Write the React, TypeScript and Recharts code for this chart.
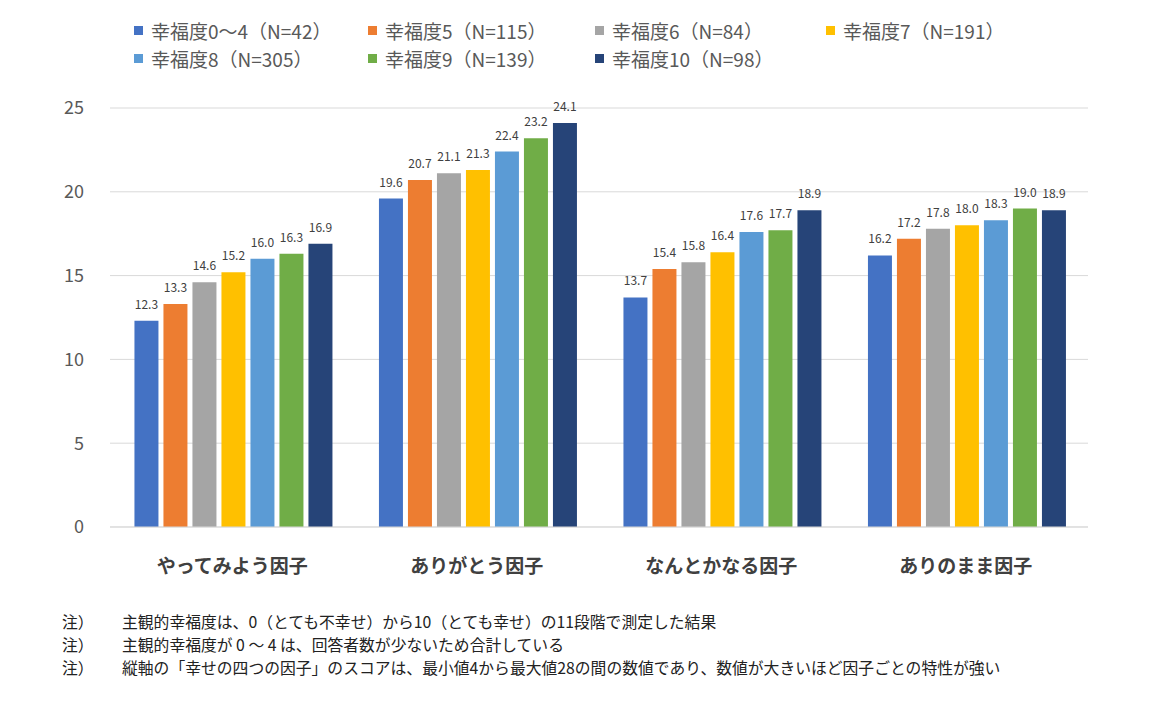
import { BarChart, Bar, XAxis, YAxis, CartesianGrid, LabelList } from 'recharts';

const categories = ['やってみよう因子', 'ありがとう因子', 'なんとかなる因子', 'ありのまま因子'];

const seriesNames = [
  '幸福度0～4（N=42）', '幸福度5（N=115）', '幸福度6（N=84）', '幸福度7（N=191）',
  '幸福度8（N=305）', '幸福度9（N=139）', '幸福度10（N=98）'
];
const seriesColors = ['#4472C4', '#ED7D31', '#A5A5A5', '#FFC000', '#5B9BD5', '#70AD47', '#264478'];

const happy0to4 = [12.3, 19.6, 13.7, 16.2];
const happy5 = [13.3, 20.7, 15.4, 17.2];
const happy6 = [14.6, 21.1, 15.8, 17.8];
const happy7 = [15.2, 21.3, 16.4, 18.0];
const happy8 = [16.0, 22.4, 17.6, 18.3];
const happy9 = [16.3, 23.2, 17.7, 19.0];
const happy10 = [16.9, 24.1, 18.9, 18.9];
const seriesValues = [happy0to4, happy5, happy6, happy7, happy8, happy9, happy10];

const yTicks = [0, 5, 10, 15, 20, 25];

const notes = [
  '主観的幸福度は、0（とても不幸せ）から10（とても幸せ）の11段階で測定した結果',
  '主観的幸福度が 0 ～ 4 は、回答者数が少ないため合計している',
  '縦軸の「幸せの四つの因子」のスコアは、最小値4から最大値28の間の数値であり、数値が大きいほど因子ごとの特性が強い'
];

const data = categories.map((name, i) => {
  const row: Record<string, string | number> = { name };
  seriesValues.forEach((vals, s) => { row['s' + s] = vals[i]; });
  return row;
});

const font = "'Noto Sans CJK JP', 'Noto Sans', sans-serif";

// legend layout, two rows like the Excel original
const legendPos = [
  [134, 30], [368, 30], [595, 30], [826, 30],
  [134, 58], [368, 58], [595, 58]
];

export default function App() {
  return (
    <div style={{ position: 'relative', width: 1156, height: 717, margin: -8, background: '#fff', fontFamily: font }}>
      {seriesNames.map((n, i) => (
        <div key={n} style={{ position: 'absolute', left: legendPos[i][0], top: legendPos[i][1] - 13, height: 26, display: 'flex', alignItems: 'center', fontSize: 19, color: '#595959', whiteSpace: 'nowrap' }}>
          <span style={{ display: 'inline-block', width: 9, height: 9, background: seriesColors[i], marginRight: 8 }} />
          {n}
        </div>
      ))}
      <div style={{ position: 'absolute', left: 0, top: 0 }}>
        <BarChart width={1156} height={600} data={data} margin={{ top: 108, right: 68, bottom: 23, left: 0 }}
          barCategoryGap="10%" barGap={5}>
          <CartesianGrid vertical={false} stroke="#d9d9d9" />
          <XAxis dataKey="name" axisLine={{ stroke: '#d9d9d9' }} tickLine={false} tickSize={0} tickMargin={33} height={50}
            tick={{ fill: '#404040', fontSize: 19, fontWeight: 'bold', fontFamily: font }} />
          <YAxis domain={[0, 25]} ticks={yTicks} axisLine={false} tickLine={false} tickSize={0} tickMargin={26} width={110}
            tick={{ fill: '#595959', fontSize: 18, fontFamily: font }} />
          {seriesNames.map((n, i) => (
            <Bar key={n} dataKey={'s' + i} name={n} fill={seriesColors[i]} isAnimationActive={false}>
              <LabelList dataKey={'s' + i} position="top" offset={12} fill="#404040" fontSize={12} fontFamily={font}
                formatter={(v: any) => Number(v).toFixed(1)} />
            </Bar>
          ))}
        </BarChart>
      </div>
      {notes.map((t, i) => (
        <div key={i} style={{ position: 'absolute', top: 621 + i * 23 - 11, left: 62, height: 22, display: 'flex', alignItems: 'center', fontSize: 15.8, color: '#222', whiteSpace: 'nowrap' }}>
          <span style={{ width: 60, display: 'inline-block' }}>注）</span>
          <span>{t}</span>
        </div>
      ))}
    </div>
  );
}
